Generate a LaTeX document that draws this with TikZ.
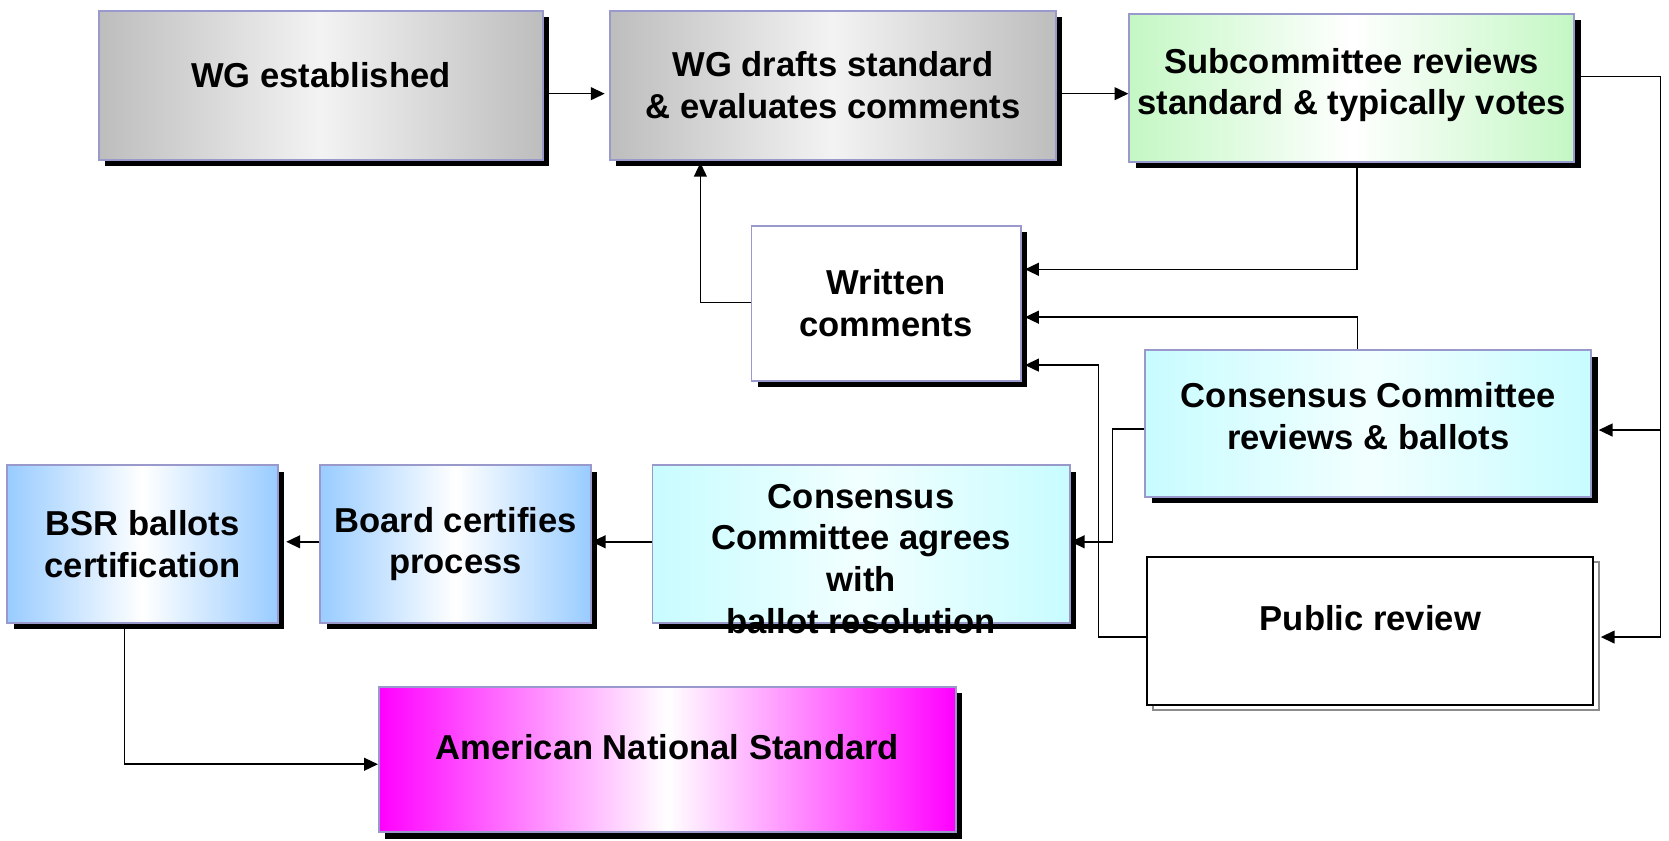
\documentclass[tikz,border=0pt]{standalone}
\usepackage{fontspec}
\setmainfont{Liberation Sans}
\usetikzlibrary{arrows.meta,shadows}
\definecolor{bd}{HTML}{9999CC}
\definecolor{gryE}{HTML}{BDBDBD}
\definecolor{gryM}{HTML}{F3F3F3}
\definecolor{grnE}{HTML}{C4F7C4}
\definecolor{cyE}{HTML}{C8FCFF}
\definecolor{cyM}{HTML}{F2FFFF}
\definecolor{bluE}{HTML}{99CCFF}
\definecolor{magE}{HTML}{FF00FF}
\begin{document}
\begin{tikzpicture}[x=1pt,y=-1pt,
  box/.style={draw=bd,line width=1.8pt,inner sep=0pt,align=center,
    font=\fontsize{32.5}{39}\selectfont\bfseries,
    drop shadow={shadow xshift=6pt,shadow yshift=-6pt,fill=black,opacity=1}},
  txt/.style={inner sep=0pt,align=center,font=\fontsize{32.5}{39}\selectfont\bfseries},
  grey/.style={left color=gryE,right color=gryE,middle color=gryM},
  green/.style={left color=grnE,right color=grnE,middle color=white},
  cyan/.style={left color=cyE,right color=cyE,middle color=cyM},
  blue/.style={left color=bluE,right color=bluE,middle color=white},
  mag/.style={left color=magE,right color=magE,middle color=white},
  arr/.style={line width=1.5pt,-{Triangle[length=13pt,width=12pt]}}]
\useasboundingbox (0,0) rectangle (1568,790);

\node[box,grey,minimum width=417pt,minimum height=140pt,text depth=20pt] (est) at (301.5,80) {WG established};
\node[box,grey,minimum width=419pt,minimum height=140pt] (drafts) at (782.5,80) {WG drafts standard\\\& evaluates comments};
\node[box,green,minimum width=418pt,minimum height=139pt,text depth=12pt] (sub) at (1270,82.5) {Subcommittee reviews\\standard \& typically votes};
\node[box,fill=white,minimum width=253pt,minimum height=146pt] (written) at (832.5,285) {Written\\comments};
\node[box,cyan,minimum width=419pt,minimum height=138pt,text depth=14pt] (ccrev) at (1285.5,398) {Consensus Committee\\reviews \& ballots};

% public review: grey offset frame + black frame
\draw[draw=black!45,line width=1.5pt,fill=white] (1083,528) rectangle (1502,667);
\node[draw=black,line width=1.8pt,fill=white,inner sep=0pt,minimum width=419pt,minimum height=139pt,
  text depth=24pt,font=\fontsize{32.5}{39}\selectfont\bfseries] (pub) at (1287.5,592.5) {Public review};

\node[box,cyan,minimum width=392pt,minimum height=148pt] (agree) at (809,511) {};
\node[txt] (agreeT) at (809,525) {Consensus\\Committee agrees\\with\\ballot resolution};
\node[box,blue,minimum width=254pt,minimum height=148pt] (board) at (428,511) {Board certifies\\process};
\node[box,blue,minimum width=254pt,minimum height=148pt] (bsr) at (134,511) {BSR ballots\\certification};
\node[box,mag,minimum width=542pt,minimum height=137pt,text depth=24pt] (ans) at (627,713.5) {American National Standard};

\coordinate (rx) at (1560,0);
\coordinate (pubin) at ([yshift=-6pt,xshift=6pt]pub.east);
\coordinate (ccin) at ([yshift=-6pt,xshift=6pt]ccrev.east);

\draw[arr] ([yshift=-8pt]est.east) -- ([yshift=-8pt,xshift=-4pt]drafts.west);
\draw[arr] ([yshift=-8pt]drafts.east) -- ([yshift=-5.5pt]sub.west);
\draw[arr] ([yshift=10.5pt]sub.east) -| (rx |- pubin) -- (pubin);
\draw[arr] (rx |- ccin) -- (ccin);
\draw[arr] ([xshift=5pt]sub.south) |- ([yshift=32pt,xshift=3pt]written.east);
\draw[arr] ([xshift=-10pt]ccrev.north) |- ([yshift=-13pt,xshift=3pt]written.east);
\draw[arr] ([yshift=-6pt]pub.west) -- ++(-45,0) |- ([yshift=-58pt,xshift=3pt]written.east);
\draw[arr] ([yshift=-5pt]ccrev.west) -- ++(-30,0) |- ([yshift=2pt]agree.east);
\draw[arr] ([yshift=1pt]written.west) -| ([xshift=-124.5pt,yshift=-2pt]drafts.south);
\draw[arr] ([yshift=2pt]agree.west) -- ([yshift=2pt]board.east);
\draw[arr] ([yshift=2pt]board.west) -- ([yshift=2pt,xshift=7pt]bsr.east);
\draw[arr] ([xshift=-17pt]bsr.south) |- ([yshift=-4.5pt]ans.west);
\end{tikzpicture}
\end{document}
